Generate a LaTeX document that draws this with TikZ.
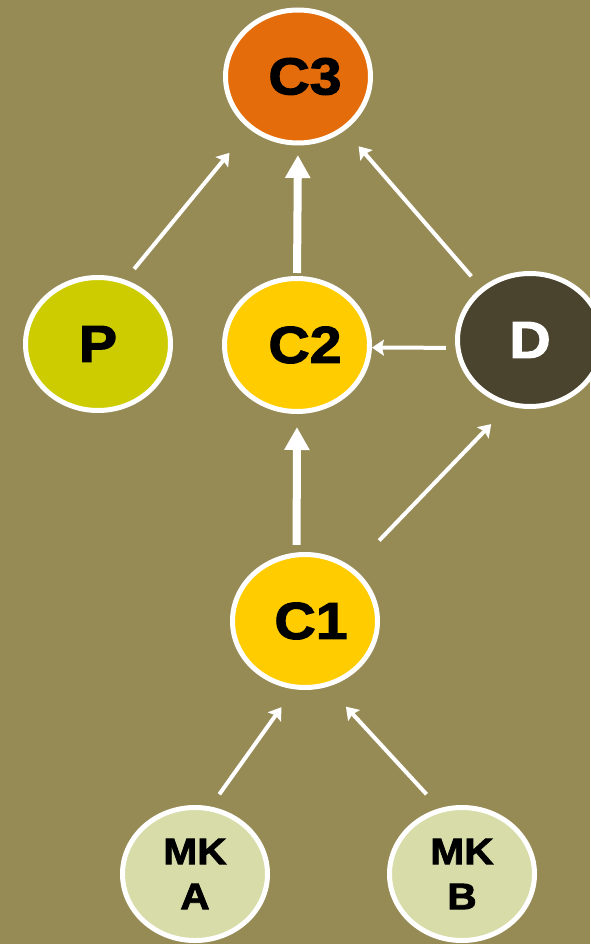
\documentclass[tikz,border=0pt]{standalone}
\usepackage{fontspec}
\newfontfamily\blk[BoldFeatures={FakeBold=2.2,FakeStretch=1.1}]{Liberation Sans}
\usetikzlibrary{shapes.geometric,arrows.meta}
\definecolor{bg}{RGB}{150,138,85}
\definecolor{orangec}{RGB}{228,108,10}
\definecolor{pc}{RGB}{204,204,0}
\definecolor{yc}{RGB}{255,204,0}
\definecolor{dc}{RGB}{74,68,46}
\definecolor{mkc}{RGB}{215,220,168}
\begin{document}
\begin{tikzpicture}[x=1pt,y=-1pt,
  bub/.style={ellipse,draw=white,line width=5pt,minimum width=145pt,minimum height=133pt,inner sep=0pt,
    font=\blk\bfseries\fontsize{52}{52}\selectfont},
  mk/.style={bub,fill=mkc,align=center,font=\blk\bfseries\fontsize{37}{45}\selectfont},
  thinarr/.style={draw=white,line width=4pt,-{Stealth[length=12pt,width=16pt,inset=2pt]}},
  thickarr/.style={draw=white,line width=8pt,-{Triangle[length=23pt,width=24pt]}}]
\fill[bg] (0,0) rectangle (590,944);
\useasboundingbox (0,0) rectangle (590,944);
\node[bub,fill=orangec] (C3) at (298,76.5) {\hspace*{14pt}C3};
\node[bub,fill=pc] (P) at (98,344) {P};
\node[bub,fill=yc] (C2) at (297,345) {\hspace*{16pt}C2};
\node[bub,fill=dc,text=white] (D) at (530,340) {D};
\node[bub,fill=yc] (C1) at (305,621) {\hspace*{12pt}C1};
\node[mk] (MKA) at (195,874) {MK\\A};
\node[mk] (MKB) at (462,874) {MK\\B};
\draw[thinarr,shorten <=14pt,shorten >=31pt] (P.67) -- (C3.227);
\draw[thickarr,shorten <=3pt,shorten >=9.5pt] (C2.north) -- (C3.south);
\draw[thinarr,shorten <=15pt,shorten >=21pt] (D.133) -- (C3.311);
\draw[thinarr,shorten <=9.5pt,shorten >=0pt] (D.186) -- (C2.358);
\draw[thickarr,shorten <=7.5pt,shorten >=13pt] (C1.97) -- (C2.south);
\draw[thinarr,shorten <=38pt,shorten >=25pt] (C1.48) -- (D.252);
\draw[thinarr,shorten <=15pt,shorten >=22pt] (MKA.77) -- (C1.261);
\draw[thinarr,shorten <=19pt,shorten >=27pt] (MKB.109) -- (C1.289);
\end{tikzpicture}
\end{document}
